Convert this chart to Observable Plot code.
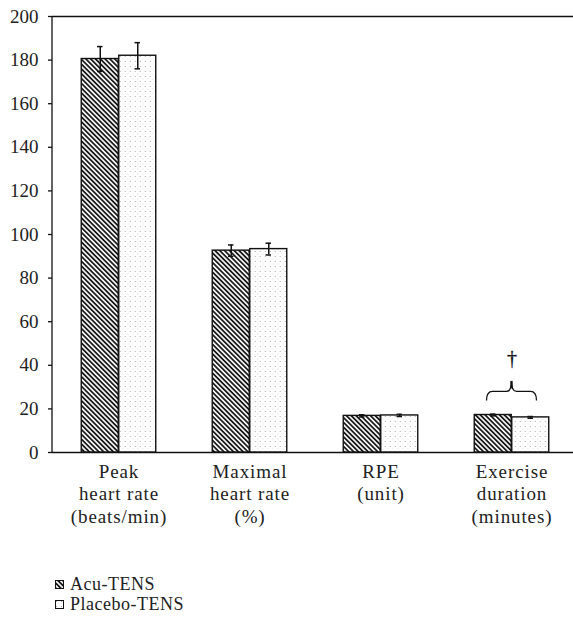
<!DOCTYPE html>
<html>
<head>
<meta charset="utf-8">
<script src="https://cdn.jsdelivr.net/npm/d3@7"></script>
<script src="https://cdn.jsdelivr.net/npm/@observablehq/plot@0.6"></script>
<style>
  html, body { margin: 0; padding: 0; background: #fff; }
  #chart { position: absolute; left: 0; top: 0; }
  #chart svg, #chart svg text { font-family: "Liberation Serif", serif !important; }
  #chart .xax text { letter-spacing: 0.9px; }
  #legend { position: absolute; left: 55px; top: 574px; font-family: "Liberation Serif", serif; font-size: 18px; letter-spacing: 0.5px; color: #222; line-height: 20px; }
  #legend .row { display: flex; align-items: center; height: 20px; }
  #legend svg { margin-right: 6px; }
</style>
</head>
<body>
<div id="chart"></div>
<div id="legend"></div>
<script>
// ---- data ----
const categories = ["Peak heart rate", "Maximal heart rate", "RPE", "Exercise duration"];
const tickLabels = ["Peak\nheart rate\n(beats/min)", "Maximal\nheart rate\n(%)", "RPE\n(unit)", "Exercise\nduration\n(minutes)"];
const series = ["Acu-TENS", "Placebo-TENS"];
const acuMean = [180.5, 92.6, 16.8, 17.2];
const acuErr = [5.7, 2.6, 0.5, 0.4];
const placeboMean = [182.0, 93.3, 17.0, 16.1];
const placeboErr = [6.0, 2.7, 0.5, 0.4];
const yTicks = [0, 20, 40, 60, 80, 100, 120, 140, 160, 180, 200];
const daggerCategory = "Exercise duration";
const daggerText = "\u2020";

// ---- layout ----
const W = 573, H = 545;
const xRange = [52.3, 577.7];
const padInner = 0.7144;
const step = (xRange[1] - xRange[0]) / categories.length;
const BW = step * (1 - padInner);

const rows = [];
categories.forEach((c, i) => {
  rows.push({cat: c, series: series[0], mean: acuMean[i], err: acuErr[i]});
  rows.push({cat: c, series: series[1], mean: placeboMean[i], err: placeboErr[i]});
});
const acu = rows.filter(d => d.series === series[0]);
const plc = rows.filter(d => d.series === series[1]);

function barSet(data, dx, fill) {
  return [
    Plot.barY(data, {x: "cat", y: "mean", fill, stroke: "#111", strokeWidth: 1.4, dx}),
    Plot.ruleX(data, {x: "cat", y1: d => d.mean - d.err, y2: d => d.mean + d.err, stroke: "#111", strokeWidth: 1.5, dx}),
    Plot.tickY(data, {x: "cat", y: d => d.mean + d.err, stroke: "#111", strokeWidth: 1.5, dx, insetLeft: (BW - 6) / 2, insetRight: (BW - 6) / 2}),
    Plot.tickY(data, {x: "cat", y: d => d.mean - d.err, stroke: "#111", strokeWidth: 1.5, dx, insetLeft: (BW - 6) / 2, insetRight: (BW - 6) / 2})
  ];
}

// brace over the two Exercise bars
function brace(index, scales, values, dimensions) {
  const x = scales.x, y = scales.y;
  const bw = (scales.scales && scales.scales.x && scales.scales.x.bandwidth) || BW;
  const cx = x(daggerCategory) + bw / 2;
  const L = cx - 25, R = cx + 25;
  const yEnd = y(23.6), yMid = y(27.8), yTop = y(32.6);
  const p = `M${L},${yEnd} Q${L},${yMid} ${L + 6},${yMid} L${cx - 5},${yMid} Q${cx},${yMid} ${cx},${yTop} Q${cx},${yMid} ${cx + 5},${yMid} L${R - 6},${yMid} Q${R},${yMid} ${R},${yEnd}`;
  const g = d3.create("svg:g");
  g.append("path").attr("d", p).attr("fill", "none").attr("stroke", "#111").attr("stroke-width", 1.3);
  g.append("line").attr("x1", cx).attr("x2", cx).attr("y1", yTop).attr("y2", yMid - 3).attr("stroke", "#111").attr("stroke-width", 2.2);
  return g.node();
}

const plot = Plot.plot({
  width: W,
  height: H,
  marginLeft: 52,
  marginRight: 0,
  marginTop: 16,
  marginBottom: H - 452,
  style: {fontFamily: "'Liberation Serif', serif", color: "#222", background: "white"},
  x: {domain: categories, range: xRange, paddingInner: padInner, paddingOuter: padInner / 2, label: null},
  y: {domain: [0, 200], label: null},
  marks: [
    Plot.ruleY([0, 200], {stroke: "#111", strokeWidth: 1.3}),
    ...barSet(acu, -BW / 2, "url(#hatch)"),
    ...barSet(plc, BW / 2, "url(#dots)"),
    Plot.axisY({ticks: yTicks, tickSize: 4, tickPadding: 10, fontSize: 19, label: null, stroke: "#111", strokeWidth: 1.3, fill: "#222"}),
    Plot.axisX({className: "xax", tickSize: 0, tickPadding: 9, fontSize: 19, lineHeight: 1.2, label: null, fill: "#222", tickFormat: d => tickLabels[categories.indexOf(d)]}),
    Plot.text([daggerCategory], {x: d => d, y: 43, text: () => daggerText, fontSize: 20, fill: "#111", stroke: "#111", strokeWidth: 0.3}),
    brace
  ]
});

// left axis line
d3.select(plot).append("line")
  .attr("x1", 52).attr("x2", 52).attr("y1", 16).attr("y2", 452)
  .attr("stroke", "#111").attr("stroke-width", 1.3);

function addPatterns(svgNode) {
  const defs = d3.select(svgNode).insert("defs", ":first-child");
  const h = defs.append("pattern").attr("id", "hatch").attr("patternUnits", "userSpaceOnUse")
    .attr("width", 3.4).attr("height", 3.4).attr("patternTransform", "rotate(-45)");
  h.append("rect").attr("width", 3.4).attr("height", 3.4).attr("fill", "#fff");
  h.append("line").attr("x1", 1.7).attr("x2", 1.7).attr("y1", -1).attr("y2", 4.4).attr("stroke", "#1a1a1a").attr("stroke-width", 1.8);
  const d = defs.append("pattern").attr("id", "dots").attr("patternUnits", "userSpaceOnUse")
    .attr("width", 5).attr("height", 5);
  d.append("rect").attr("width", 5).attr("height", 5).attr("fill", "#fff");
  d.append("rect").attr("x", 1).attr("y", 1).attr("width", 1).attr("height", 1).attr("fill", "#aaa");
  d.append("rect").attr("x", 3.5).attr("y", 3.5).attr("width", 1).attr("height", 1).attr("fill", "#ddd");
}
addPatterns(plot);
document.getElementById("chart").appendChild(plot);

// legend
const legend = d3.select("#legend");
const fills = ["url(#hatch)", "url(#dots)"];
series.forEach((s, i) => {
  const row = legend.append("div").attr("class", "row");
  const sw = row.append("svg").attr("width", 9).attr("height", 9);
  sw.append("rect").attr("x", 0.5).attr("y", 0.5).attr("width", 8).attr("height", 8)
    .attr("fill", fills[i]).attr("stroke", "#111").attr("stroke-width", 1);
  row.append("span").text(s);
});
</script>
</body>
</html>
